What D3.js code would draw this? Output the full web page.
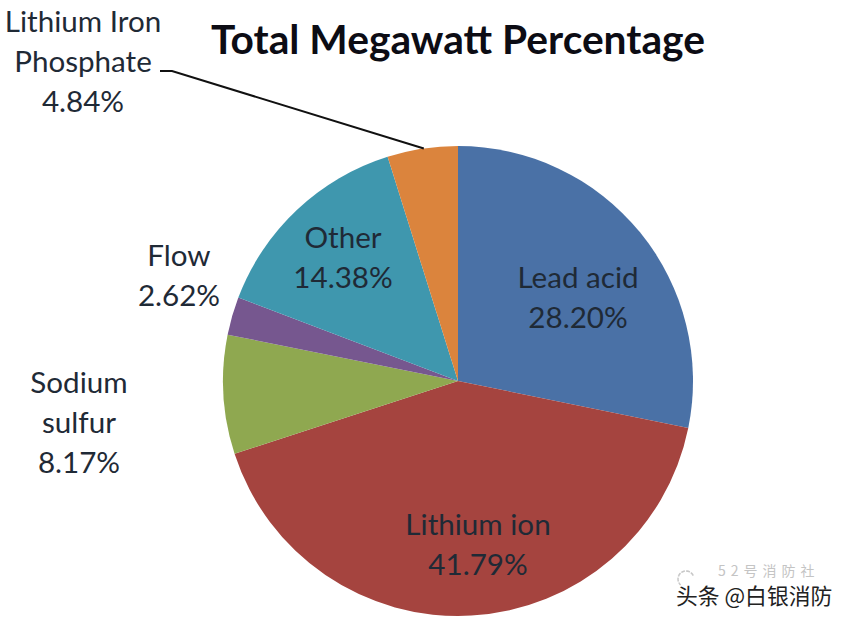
<!DOCTYPE html>
<html lang="en">
  <head>
    <meta charset="utf-8">
    <title>Total Megawatt Percentage</title>
    <style>
      html, body { margin: 0; padding: 0; background: #fff; }
      text { font-family: Lato, "Open Sans", sans-serif; fill: #1f2a36; }
    </style>
  </head>
  <body>
    <div id="chart"></div>
    <script src="https://d3js.org/d3.v7.min.js"></script>
    <script>
      var categories = ["Lead acid", "Lithium ion", "Sodium sulfur", "Flow", "Other", "Lithium Iron Phosphate"];
      var values = [28.20, 41.79, 8.17, 2.62, 14.38, 4.84];
      var labelLines = [["Lead acid"], ["Lithium ion"], ["Sodium", "sulfur"], ["Flow"], ["Other"], ["Lithium Iron", "Phosphate"]];
      var colors = ["#4a71a6", "#a5443f", "#8fa850", "#76578f", "#3f97ae", "#db843d"];

      var width = 850, height = 624;
      var cx = 458, cy = 381, radius = 235;

      // label anchor (centre x, first baseline y), placed by hand like the original
      var labelPos = [[578, 288], [478, 535], [79, 393], [179, 266], [343, 248], [83, 32]];
      var lineGap = 40;

      var svg = d3.select("#chart")
        .append("svg")
        .attr("width", width)
        .attr("height", height);

      var pie = d3.pie().sort(null).value(function(d) { return d; });
      var arc = d3.arc().innerRadius(0).outerRadius(radius);

      var gPie = svg.append("g").attr("transform", "translate(" + cx + "," + cy + ")");
      gPie.selectAll("path")
        .data(pie(values))
        .enter()
        .append("path")
        .attr("d", arc)
        .attr("fill", function(d, i) { return colors[i]; });

      // leader line for the small slice
      var slice = pie(values)[5];
      var edge = d3.pointRadial(slice.startAngle + (slice.endAngle - slice.startAngle) * 0.52, radius);
      svg.append("polyline")
        .attr("points", "160,71 172,71 " + (cx + edge[0]) + "," + (cy + edge[1]))
        .attr("fill", "none")
        .attr("stroke", "#111")
        .attr("stroke-width", 2);

      svg.append("text")
        .attr("x", 458)
        .attr("y", 54)
        .attr("text-anchor", "middle")
        .attr("font-size", 40.7)
        .attr("font-weight", "bold")
        .style("fill", "#0c0c14")
        .text("Total Megawatt Percentage");

      var gLabel = svg.append("g");
      categories.forEach(function(name, i) {
        var lines = labelLines[i].concat([values[i].toFixed(2) + "%"]);
        lines.forEach(function(line, j) {
          gLabel.append("text")
            .attr("x", labelPos[i][0])
            .attr("y", labelPos[i][1] + j * lineGap)
            .attr("text-anchor", "middle")
            .attr("font-size", 29.6)
            .text(line);
        });
      });

      // watermark, the faint one sits just above the dark one
      svg.append("path")
        .attr("d", d3.arc()({ innerRadius: 8, outerRadius: 8, startAngle: -2.4, endAngle: 1.2 }))
        .attr("transform", "translate(686,579)")
        .attr("fill", "none")
        .attr("stroke", "#c8c8c8")
        .attr("stroke-width", 1.5)
        .attr("stroke-dasharray", "3 2");
      svg.append("text")
        .attr("x", 718)
        .attr("y", 576)
        .attr("font-size", 14)
        .attr("letter-spacing", 5)
        .style("font-family", "'Noto Sans CJK SC'")
        .style("fill", "#c4c4c4")
        .text("52号消防社");
      svg.append("text")
        .attr("x", 676)
        .attr("y", 604)
        .attr("font-size", 21.8)
        .style("font-family", "'Noto Sans CJK SC'")
        .style("fill", "#222")
        .text("头条 @白银消防");
    </script>
  </body>
</html>
